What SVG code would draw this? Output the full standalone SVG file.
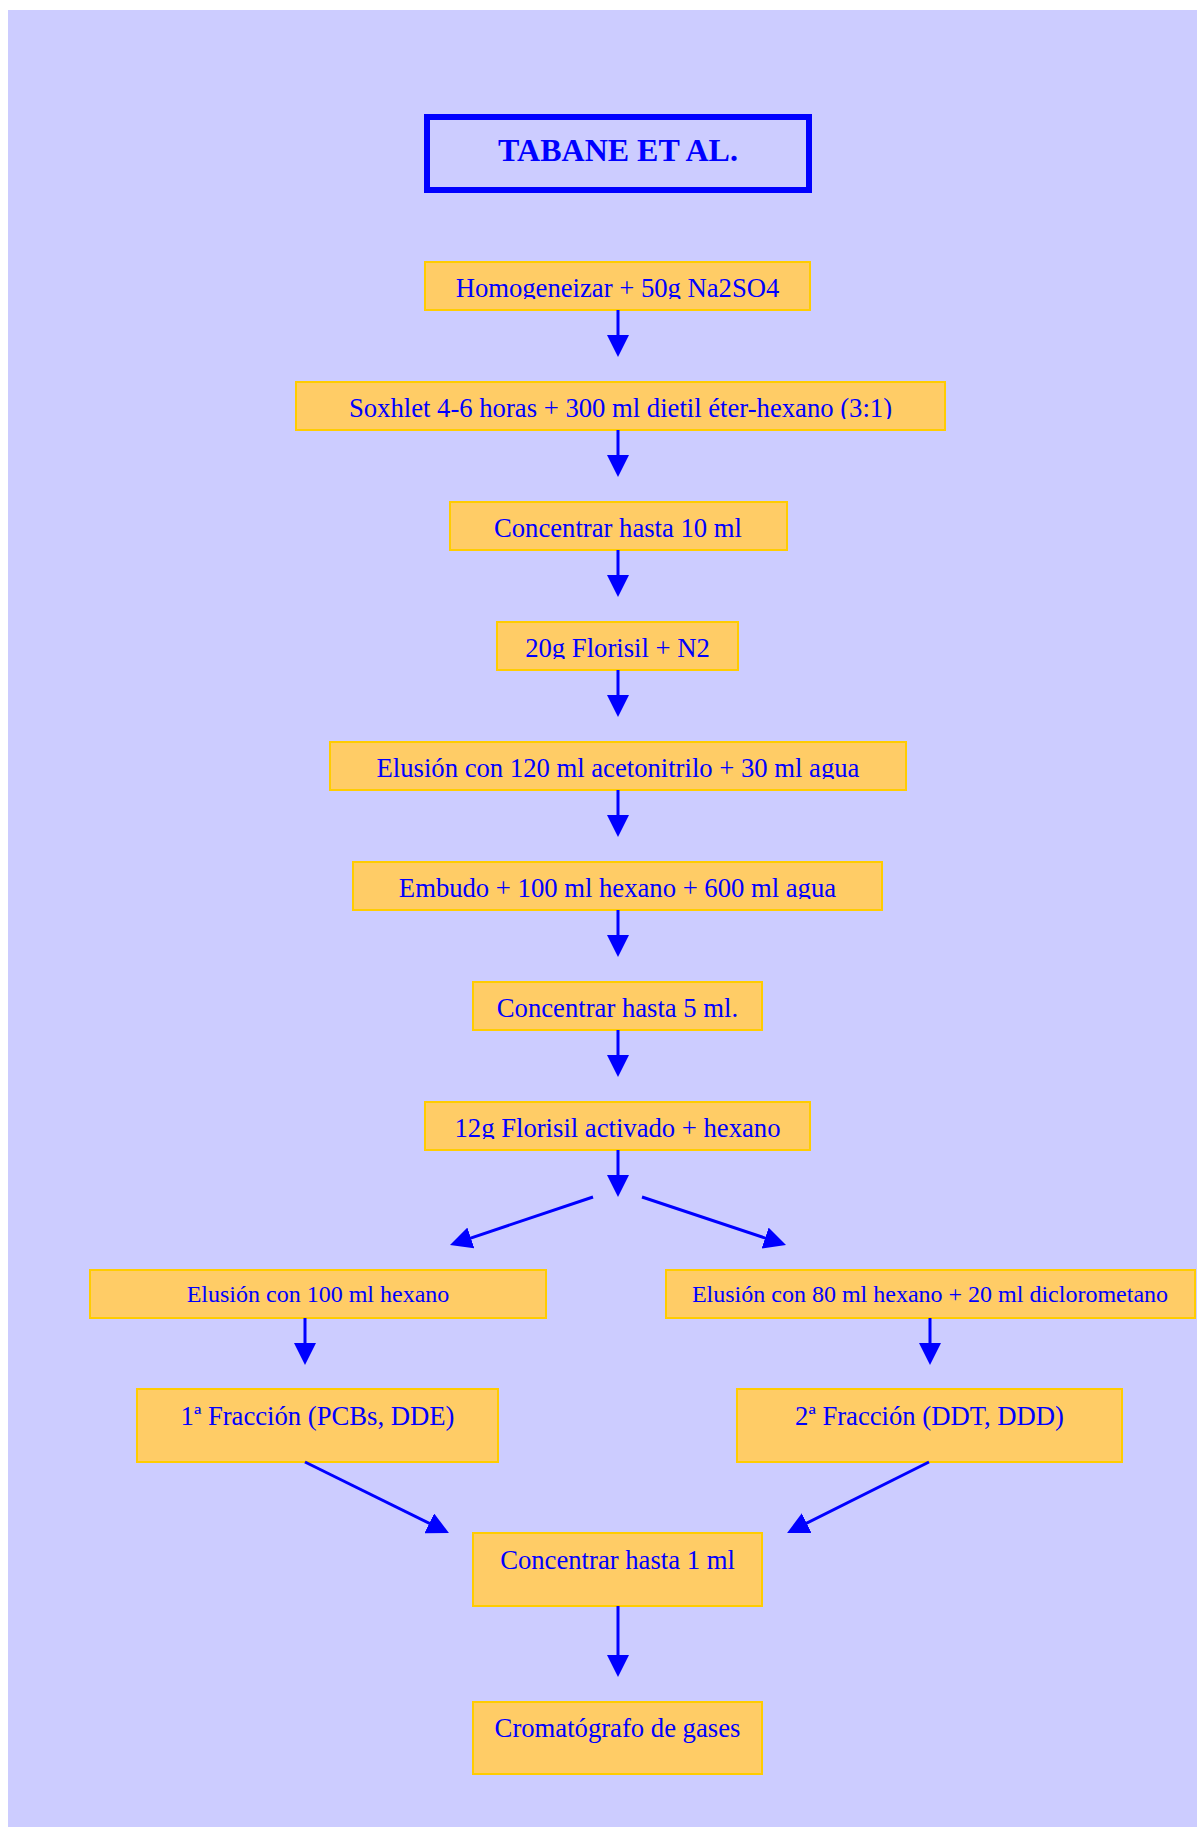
<svg xmlns="http://www.w3.org/2000/svg" width="1197" height="1827" viewBox="0 0 1197 1827">
<style>
.box{fill:#FFCC66;stroke:#FFCC00;stroke-width:2}
.t{font-family:"Liberation Serif","Times New Roman",serif;font-size:26.67px;fill:#0000FF;text-anchor:middle}
.s{font-size:24px}
.title{font-family:"Liberation Serif","Times New Roman",serif;font-size:32px;font-weight:bold;fill:#0000FF;text-anchor:middle}
.c{fill:none;stroke:#0000FF;stroke-width:3}
</style>
<defs>
<marker id="ah" markerUnits="userSpaceOnUse" markerWidth="22" markerHeight="22" refX="12" refY="11" orient="auto">
<path d="M0,0 L22,11 L0,22 Z" fill="#0000FF"/>
</marker>
<clipPath id="k1"><rect x="425" y="262" width="385" height="37"/></clipPath>
<clipPath id="k2"><rect x="296" y="382" width="649" height="37"/></clipPath>
<clipPath id="k4"><rect x="497" y="622" width="241" height="37"/></clipPath>
<clipPath id="k5"><rect x="330" y="742" width="576" height="37"/></clipPath>
<clipPath id="k6"><rect x="353" y="862" width="529" height="37"/></clipPath>
<clipPath id="k8"><rect x="425" y="1102" width="385" height="37"/></clipPath>
</defs>
<rect x="0" y="0" width="1197" height="1827" fill="#FFFFFF"/>
<rect x="8" y="10" width="1189" height="1817" fill="#CCCCFF"/>

<g id="title">
<rect x="427" y="117" width="382" height="73" fill="none" stroke="#0000FF" stroke-width="6"/>
<text class="title" x="618" y="161">TABANE ET AL.</text>
</g>

<g id="n1"><rect class="box" x="425" y="262" width="385" height="48"/><text class="t" x="617.5" y="297" clip-path="url(#k1)">Homogeneizar + 50g Na2SO4</text></g>
<g id="n2"><rect class="box" x="296" y="382" width="649" height="48"/><text class="t" x="620.5" y="417" clip-path="url(#k2)">Soxhlet 4-6 horas + 300 ml dietil éter-hexano (3:1)</text></g>
<g id="n3"><rect class="box" x="450" y="502" width="337" height="48"/><text class="t" x="618" y="537">Concentrar hasta 10 ml</text></g>
<g id="n4"><rect class="box" x="497" y="622" width="241" height="48"/><text class="t" x="617.5" y="657" clip-path="url(#k4)">20g Florisil + N2</text></g>
<g id="n5"><rect class="box" x="330" y="742" width="576" height="48"/><text class="t" x="618" y="777" clip-path="url(#k5)">Elusión con 120 ml acetonitrilo + 30 ml agua</text></g>
<g id="n6"><rect class="box" x="353" y="862" width="529" height="48"/><text class="t" x="617.5" y="897" clip-path="url(#k6)">Embudo + 100 ml hexano + 600 ml agua</text></g>
<g id="n7"><rect class="box" x="473" y="982" width="289" height="48"/><text class="t" x="617.5" y="1017">Concentrar hasta 5 ml.</text></g>
<g id="n8"><rect class="box" x="425" y="1102" width="385" height="48"/><text class="t" x="617.5" y="1137" clip-path="url(#k8)">12g Florisil activado + hexano</text></g>
<g id="n9"><rect class="box" x="90" y="1270" width="456" height="48"/><text class="t s" x="318" y="1302">Elusión con 100 ml hexano</text></g>
<g id="n10"><rect class="box" x="666" y="1270" width="529" height="48"/><text class="t s" x="930" y="1302">Elusión con 80 ml hexano + 20 ml diclorometano</text></g>
<g id="n11"><rect class="box" x="137" y="1389" width="361" height="73"/><text class="t" x="317.5" y="1425">1ª Fracción (PCBs, DDE)</text></g>
<g id="n12"><rect class="box" x="737" y="1389" width="385" height="73"/><text class="t" x="929.5" y="1425">2ª Fracción (DDT, DDD)</text></g>
<g id="n13"><rect class="box" x="473" y="1533" width="289" height="73"/><text class="t" x="617.5" y="1569">Concentrar hasta 1 ml</text></g>
<g id="n14"><rect class="box" x="473" y="1702" width="289" height="72"/><text class="t" x="617.5" y="1737">Cromatógrafo de gases</text></g>

<g id="connectors">
<path class="c" marker-end="url(#ah)" d="M618,310 V347"/>
<path class="c" marker-end="url(#ah)" d="M618,430 V467"/>
<path class="c" marker-end="url(#ah)" d="M618,550 V587"/>
<path class="c" marker-end="url(#ah)" d="M618,670 V707"/>
<path class="c" marker-end="url(#ah)" d="M618,790 V827"/>
<path class="c" marker-end="url(#ah)" d="M618,910 V947"/>
<path class="c" marker-end="url(#ah)" d="M618,1030 V1067"/>
<path class="c" marker-end="url(#ah)" d="M618,1150 V1187"/>
<path class="c" marker-end="url(#ah)" d="M593,1197 L459.5,1241.8"/>
<path class="c" marker-end="url(#ah)" d="M642,1197 L776.5,1241.8"/>
<path class="c" marker-end="url(#ah)" d="M305,1318 V1355"/>
<path class="c" marker-end="url(#ah)" d="M930,1318 V1355"/>
<path class="c" marker-end="url(#ah)" d="M305,1462 L440,1528.6"/>
<path class="c" marker-end="url(#ah)" d="M929,1462 L796,1528.5"/>
<path class="c" marker-end="url(#ah)" d="M618,1606 V1667"/>
</g>
</svg>
